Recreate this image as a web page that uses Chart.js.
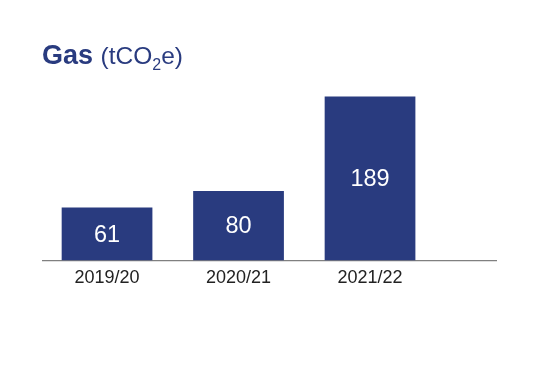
<!DOCTYPE html>
<html>
<head>
<meta charset="utf-8">
<script src="https://cdn.jsdelivr.net/npm/chart.js@4"></script>
<style>
  html, body { margin: 0; padding: 0; background: #ffffff; }
  #wrap { position: relative; width: 540px; height: 376px; }
  #title {
    position: absolute; left: 42px; top: 42px;
    font-family: "Liberation Sans", Arial, Helvetica, sans-serif;
    font-size: 27px; line-height: 27px; color: #293b7f; white-space: nowrap;
  }
  #title b { font-weight: bold; }
  #title .unit { font-size: 24.5px; }
  #title sub { font-size: 16px; position: relative; top: 6px; vertical-align: baseline; }
  canvas { position: absolute; left: 0; top: 0; }
</style>
</head>
<body>
<div id="wrap">
  <canvas id="c" width="540" height="376"></canvas>
  <div id="title"><b>Gas</b> <span class="unit">(tCO<sub>2</sub>e)</span></div>
</div>
<script>
const categories = ['2019/20', '2020/21', '2021/22'];
const gasValues = [61, 80, 189];
const yMax = 200;

const barColor = '#293b7f';

const points = categories.map((c, i) => ({ x: i + 1, y: gasValues[i] }));

const valueLabels = {
  id: 'valueLabels',
  afterDatasetsDraw(chart) {
    const ctx = chart.ctx;
    const meta = chart.getDatasetMeta(0);
    ctx.save();
    ctx.fillStyle = '#ffffff';
    ctx.font = '23.5px "Liberation Sans", Arial, sans-serif';
    ctx.textAlign = 'center';
    ctx.textBaseline = 'middle';
    meta.data.forEach((bar, i) => {
      const cy = (bar.y + bar.base) / 2;
      ctx.fillText(String(gasValues[i]), bar.x, cy + 1);
    });
    ctx.restore();
  }
};

new Chart(document.getElementById('c'), {
  type: 'bar',
  data: {
    datasets: [{
      data: points,
      backgroundColor: barColor,
      borderWidth: 0,
      barPercentage: 0.69,
      categoryPercentage: 1.0
    }]
  },
  options: {
    responsive: false,
    animation: false,
    devicePixelRatio: 1,
    layout: { padding: { left: 43, right: 44, top: 87, bottom: 0 } },
    plugins: { legend: { display: false }, tooltip: { enabled: false }, title: { display: false } },
    scales: {
      x: {
        type: 'linear',
        offset: false,
        bounds: 'data',
        min: 0.513,
        max: 3.958,
        grid: { display: false, drawTicks: false, offset: false },
        border: { display: true, color: '#808080', width: 1.3 },
        afterBuildTicks(scale) {
          scale.ticks = categories.map((c, i) => ({ value: i + 1 }));
        },
        afterFit(scale) { scale.height = 115.5; },
        ticks: {
          padding: 7,
          color: '#222222',
          font: { family: '"Liberation Sans", Arial, sans-serif', size: 18 },
          autoSkip: false,
          maxRotation: 0,
          callback(v) { return categories[Math.round(v) - 1]; }
        }
      },
      y: {
        display: false,
        min: 0,
        max: yMax
      }
    }
  },
  plugins: [valueLabels]
});
</script>
</body>
</html>
